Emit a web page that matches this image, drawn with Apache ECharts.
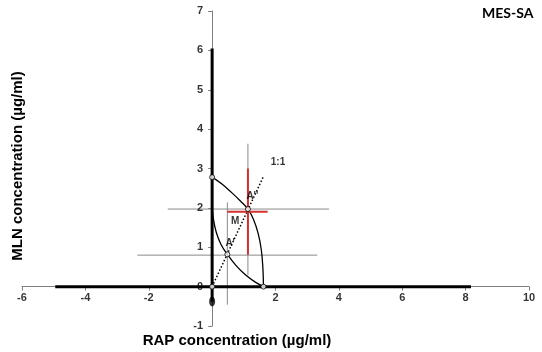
<!DOCTYPE html>
<html>
<head>
<meta charset="utf-8">
<script src="https://cdn.jsdelivr.net/npm/echarts@6/dist/echarts.min.js"></script>
<style>
	html, body { margin: 0; padding: 0; background: #fff; }
	#chart { width: 542px; height: 352px; }
</style>
</head>
<body>
<div id="chart"></div>
<script>
/*isobole curves (RAP, MLN)*/
var upperCurve = [[0, 2.78], [0.3, 2.61], [0.6, 2.4], [0.9, 2.17], [1.13, 1.97], [1.3, 1.72], [1.45, 1.36], [1.55, 0.95], [1.6, 0.5], [1.62, 0]];
var lowerCurve = [[0, 2.02], [0.04, 1.72], [0.13, 1.38], [0.28, 1.07], [0.48, 0.82], [0.75, 0.54], [1.05, 0.3], [1.35, 0.12], [1.62, 0]];
/*open points*/
var openPoints = [[0, 2.78], [1.62, 0], [0, 0], [0.48, 0.82], [1.13, 1.97]];
/*1:1 ray*/
var unityLine = [[0, 0], [1.62, 2.8]];
/*thick single-drug segments*/
var rapSegment = [[-4.95, 0], [8.17, 0]];
var mlnSegment = [[0, -0.38], [0, 6.05]];
var blackDot = [[0, -0.38]];
/*error bars: [x, y, xLow, xHigh, yLow, yHigh]*/
var greyBars = [
	[1.13, 1.97, -1.40, 3.69, 0.30, 3.63],
	[0.48, 0.80, -2.36, 3.32, -0.46, 2.14]
];
var redBar = [1.13, 1.90, 0.48, 1.75, 0.81, 3.0];
/*tick labels*/
var xTickLabels = [-6, -4, -2, 2, 4, 6, 8, 10];
var yTickLabels = [-1, 0, 1, 2, 3, 4, 5, 6, 7];
/*labels*/
var pointLabels = [
	{ name: '1:1', value: [2.08, 3.15] },
	{ name: "A''", value: [1.27, 2.29] },
	{ name: "A'", value: [0.57, 1.11] },
	{ name: 'M', value: [0.73, 1.66] }
];

var chartObj = function() {
	this.chart = echarts.init(document.getElementById('chart'));
	this.series = [];
}
chartObj.prototype.lineSeries = function(data, color, width, type, smooth) {
	this.series.push({
		type: 'line',
		data: data,
		showSymbol: false,
		silent: true,
		smooth: smooth || false,
		lineStyle: { color: color, width: width, type: type || 'solid' },
		z: 3
	});
}
chartObj.prototype.errorBar = function(b, color, width) {
	this.lineSeries([[b[2], b[1]], [b[3], b[1]]], color, width);
	this.lineSeries([[b[0], b[4]], [b[0], b[5]]], color, width);
}
chartObj.prototype.textSeries = function(data, position, distance, fontSize) {
	this.series.push({
		type: 'scatter',
		data: data,
		symbolSize: 0,
		silent: true,
		label: {
			show: true,
			position: position,
			distance: distance,
			formatter: '{b}',
			color: '#000',
			fontFamily: 'Liberation Sans',
			fontWeight: 'bold',
			fontSize: fontSize
		},
		z: 6
	});
}
chartObj.prototype.build = function() {
	var _this = this;
	greyBars.forEach(function(b) {
		_this.errorBar(b, '#8a8a8a', 1);
	});
	this.lineSeries(rapSegment, '#000', 3);
	this.lineSeries(mlnSegment, '#000', 3);
	this.lineSeries(upperCurve, '#000', 1.3, null, 0.4);
	this.lineSeries(lowerCurve, '#000', 1.3, null, 0.4);
	this.lineSeries(unityLine, '#000', 1.5, [1.5, 2]);
	this.errorBar(redBar, '#d03030', 2);
	this.series.push({
		type: 'scatter',
		data: openPoints,
		symbol: 'circle',
		symbolSize: 5,
		silent: true,
		itemStyle: { color: '#fff', borderColor: '#000', borderWidth: 1 },
		z: 5
	});
	this.series.push({
		type: 'scatter',
		data: blackDot,
		symbol: 'circle',
		symbolSize: [6, 10],
		silent: true,
		itemStyle: { color: '#000' },
		z: 5
	});
	this.textSeries(pointLabels, 'inside', 0, 10);
	this.textSeries(xTickLabels.map(function(v) {
		return { name: String(v), value: [v, 0] };
	}), 'bottom', 6, 11);
	this.textSeries(yTickLabels.map(function(v) {
		return { name: String(v), value: [0, v] };
	}), 'left', 9, 11);

	var axisStyle = { color: '#7f7f7f', width: 1 };
	var option = {
		animation: false,
		grid: { left: 22, right: 13, top: 11, bottom: 26, containLabel: false },
		xAxis: {
			type: 'value',
			min: -6, max: 10, interval: 2,
			axisLine: { onZero: true, lineStyle: axisStyle },
			axisTick: { show: true, length: 4, lineStyle: axisStyle },
			axisLabel: { show: false },
			splitLine: { show: false }
		},
		yAxis: {
			type: 'value',
			min: -1, max: 7, interval: 1,
			axisLine: { onZero: true, lineStyle: axisStyle },
			axisTick: { show: true, length: 4, lineStyle: axisStyle },
			axisLabel: { show: false },
			splitLine: { show: false }
		},
		graphic: [
			{ type: 'text', left: 482, top: 6, style: { text: 'MES-SA', font: 'bold 14px Lato', fill: '#000' } },
			{ type: 'text', x: 237, y: 341, style: { text: 'RAP concentration (\u00b5g/ml)', font: 'bold 15px "Liberation Sans"', fill: '#000', align: 'center', verticalAlign: 'middle' } },
			{ type: 'text', x: 18, y: 166, rotation: Math.PI / 2, style: { text: 'MLN concentration (\u00b5g/ml)', font: 'bold 15px "Liberation Sans"', fill: '#000', align: 'center', verticalAlign: 'middle' } }
		],
		series: this.series
	};
	this.chart.setOption(option);
}

var myChart = new chartObj();
myChart.build();
</script>
</body>
</html>
